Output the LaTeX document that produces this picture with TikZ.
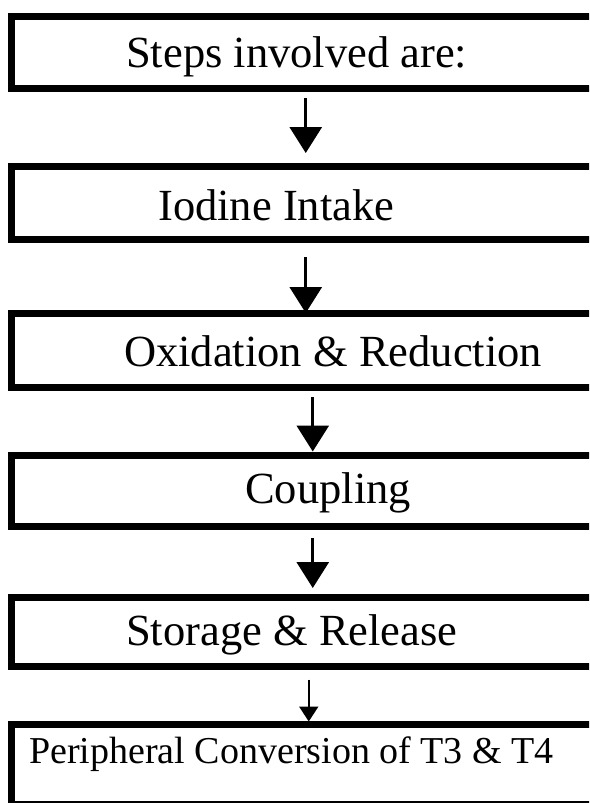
\documentclass[tikz,border=0pt]{standalone}
\usepackage{fontspec}
\setmainfont{Liberation Serif}
\usetikzlibrary{arrows.meta}

\tikzset{
  stagebox/.style = {draw, line width = 7pt, rectangle, minimum width = 588.5pt},
  stagetext/.style = {anchor = base west, inner sep = 0pt, font = \fontsize{44.5}{50}\selectfont},
  bigarrow/.style = {line width = 3pt, -{Triangle[width = 32pt, length = 26pt]}},
  smallarrow/.style = {line width = 2pt, -{Triangle[width = 19pt, length = 15pt]}}
}

\begin{document}
\begin{tikzpicture}[x = 1pt, y = -1pt]
          \clip (0,0) rectangle (589,803);
          \fill[white] (0,0) rectangle (589,803);
          % the six boxes
          \node[stagebox, minimum height = 72.5pt] (b1) at (305.75, 52.25) {};
          \node[stagebox, minimum height = 73pt]   (b2) at (305.75, 203) {};
          \node[stagebox, minimum height = 74pt]   (b3) at (305.75, 350.5) {};
          \node[stagebox, minimum height = 71.5pt] (b4) at (305.75, 490.75) {};
          \node[stagebox, minimum height = 68.5pt] (b5) at (305.75, 631.75) {};
          \node[stagebox, minimum height = 80.5pt] (b6) at (305.75, 764.25) {};
          % their texts
          \node[stagetext] (t1) at (126, 67) {Steps involved are:};
          \node[stagetext] (t2) at (158, 220) {Iodine Intake};
          \node[stagetext] (t3) at (124, 366) {Oxidation \& Reduction};
          \node[stagetext] (t4) at (245, 503) {Coupling};
          \node[stagetext] (t5) at (126, 645) {Storage \& Release};
          \node[stagetext, font = \fontsize{38}{44}\selectfont] (t6) at (29, 763) {Peripheral Conversion of T3 \& T4};
          % arrows
          \draw[bigarrow, shorten < = 6pt, shorten > = 10pt] (b1.south) -- (b2.north);
          \draw[bigarrow, shorten < = 14pt, shorten > = -3pt] (b2.south) -- (b3.north);
          \draw[bigarrow, shorten < = 6pt] ([xshift = 7pt]b3.south) -- ([xshift = 7pt]b4.north);
          \draw[bigarrow, shorten < = 8pt, shorten > = 6pt] ([xshift = 7pt]b4.south) -- ([xshift = 7pt]b5.north);
          \draw[smallarrow, shorten < = 10pt, shorten > = -1pt] ([xshift = 3pt]b5.south) -- ([xshift = 3pt]b6.north);
        \end{tikzpicture}
\end{document}
